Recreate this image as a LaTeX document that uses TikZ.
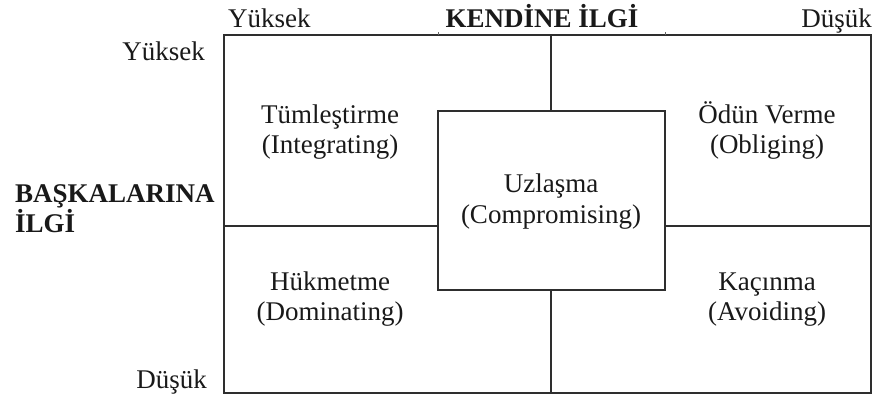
\documentclass[tikz,border=0pt]{standalone}
\usepackage{fontspec}
\setmainfont{Liberation Serif}
\tikzset{
  frame/.style={draw=black!82, line width=1.4pt, line cap=rect},
  lbl/.style={anchor=base, inner sep=0pt, text=black!90,
    font=\fontsize{27}{31}\selectfont},
  head/.style={lbl, font=\fontsize{27}{31}\selectfont\bfseries},
}
\begin{document}
\begin{tikzpicture}[x=1pt, y=-1pt]
  \useasboundingbox (0,0) rectangle (876,396);

  % grid corners and junctions
  \coordinate (tl) at (224,35);
  \coordinate (br) at (871,393);
  \coordinate (ml) at (224,226);
  \coordinate (mr) at (871,226);
  \coordinate (mt) at (551,35);
  \coordinate (mb) at (551,393);
  \coordinate (btl) at (438,111);
  \coordinate (bbr) at (665,290);

  % outer frame
  \draw[frame] (tl) rectangle (br);
  % central square
  \draw[frame] (btl) rectangle (bbr);
  % dividers stopping at the central square
  \draw[frame] (ml) -- (ml -| btl);
  \draw[frame] (mr -| bbr) -- (mr);
  \draw[frame] (mt) -- (mt |- btl);
  \draw[frame] (mb |- bbr) -- (mb);
  % small marks on the top edge
  \draw[draw=black!60, line width=0.8pt] (438,35) -- (438,32);
  \draw[draw=black!60, line width=0.8pt] (665,35) -- (665,32);

  % axis headings
  \node[lbl, anchor=base west] (tophi) at (228,28) {Yüksek};
  \node[head] (tophead) at (542,28) {KENDİNE İLGİ};
  \node[lbl, anchor=base east] (toplo) at (872,28) {Düşük};
  \node[lbl, anchor=base east] (lefthi) at (205,61) {Yüksek};
  \node[head, anchor=base west] (lefthead1) at (15,202) {BAŞKALARINA};
  \node[head, anchor=base west] (lefthead2) at (15,232) {İLGİ};
  \node[lbl, anchor=base east] (leftlo) at (207,388) {Düşük};

  % cell labels
  \node[lbl] (integ1) at (330,123) {Tümleştirme};
  \node[lbl] (integ2) at (330,153) {(Integrating)};
  \node[lbl] (oblig1) at (767,124) {Ödün Verme};
  \node[lbl] (oblig2) at (767,153) {(Obliging)};
  \node[lbl] (comp1) at (551,192) {Uzlaşma};
  \node[lbl] (comp2) at (551,223) {(Compromising)};
  \node[lbl] (domin1) at (330,290) {Hükmetme};
  \node[lbl] (domin2) at (330,320) {(Dominating)};
  \node[lbl] (avoid1) at (767,290) {Kaçınma};
  \node[lbl] (avoid2) at (767,320) {(Avoiding)};
\end{tikzpicture}
\end{document}
